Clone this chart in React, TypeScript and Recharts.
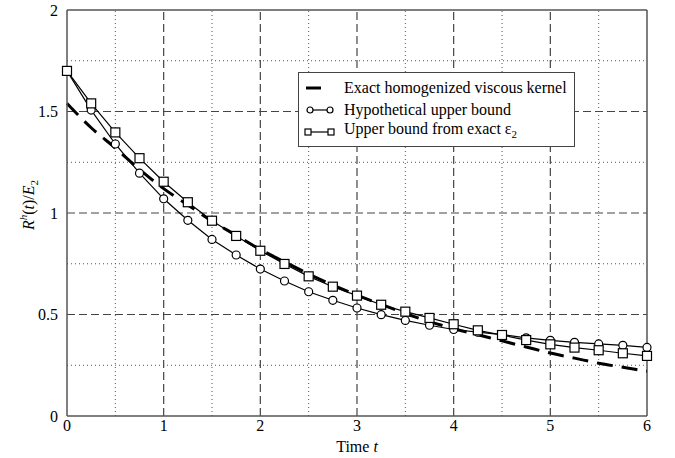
import React from 'react';
import { LineChart, Line, XAxis, YAxis, ReferenceLine, Legend, Label } from 'recharts';

const times = [0, 0.25, 0.5, 0.75, 1, 1.25, 1.5, 1.75, 2, 2.25, 2.5, 2.75, 3, 3.25, 3.5, 3.75, 4, 4.25, 4.5, 4.75, 5, 5.25, 5.5, 5.75, 6];
const exactKernel = [1.54, 1.42, 1.32, 1.215, 1.12, 1.04, 0.96, 0.89, 0.82, 0.76, 0.7, 0.645, 0.595, 0.55, 0.505, 0.465, 0.43, 0.4, 0.37, 0.34, 0.31, 0.285, 0.26, 0.24, 0.22];
const hypotheticalBound = [1.7, 1.507, 1.34, 1.196, 1.07, 0.964, 0.87, 0.793, 0.724, 0.665, 0.612, 0.57, 0.532, 0.499, 0.471, 0.447, 0.426, 0.413, 0.401, 0.385, 0.373, 0.363, 0.355, 0.348, 0.338];
const exactEps2Bound = [1.7, 1.54, 1.397, 1.27, 1.154, 1.053, 0.962, 0.887, 0.814, 0.749, 0.688, 0.637, 0.593, 0.548, 0.514, 0.483, 0.452, 0.422, 0.399, 0.374, 0.353, 0.337, 0.324, 0.309, 0.296];

const xTicks = [0, 1, 2, 3, 4, 5, 6];
const yTicks = [0, 0.5, 1, 1.5, 2];
const xMajorGrid = [1, 2, 3, 4, 5];
const xMinorGrid = [0.5, 1.5, 2.5, 3.5, 4.5, 5.5];
const yMajorGrid = [0.5, 1, 1.5];
const yMinorGrid = [0.25, 0.75, 1.25, 1.75];

const data = times.map((t, i) => ({
  t,
  exact: exactKernel[i],
  hyp: hypotheticalBound[i],
  upper: exactEps2Bound[i],
}));

const FONT = '"Liberation Serif", "DejaVu Serif", serif';

const CircleDot = (props: any) => {
  const { cx, cy, index } = props;
  return <circle key={`c${index}`} cx={cx} cy={cy} r={4} fill="#fff" stroke="#000" strokeWidth={1.2} />;
};

const SquareDot = (props: any) => {
  const { cx, cy, index } = props;
  return <rect key={`s${index}`} x={cx - 4.5} y={cy - 4.5} width={9} height={9} fill="#fff" stroke="#000" strokeWidth={1.2} />;
};

const LegendBox = () => {
  const row: React.CSSProperties = { display: 'flex', alignItems: 'center', height: 22 };
  const txt: React.CSSProperties = { marginLeft: 5, whiteSpace: 'nowrap' };
  return (
    <div style={{ border: '1px solid #444', background: '#fff', width: 277, height: 75, padding: '4px 0 0 0', boxSizing: 'border-box', fontFamily: FONT, fontSize: 16, color: '#000', lineHeight: '22px' }}>
      <div style={row}>
        <svg width={40} height={22}><line x1={7} y1={11} x2={22} y2={11} stroke="#000" strokeWidth={3} /></svg>
        <span style={txt}>Exact homogenized viscous kernel</span>
      </div>
      <div style={row}>
        <svg width={40} height={22}>
          <line x1={11} y1={11} x2={31} y2={11} stroke="#000" strokeWidth={1.2} />
          <circle cx={11} cy={11} r={3} fill="#fff" stroke="#000" strokeWidth={1.2} />
          <circle cx={31} cy={11} r={3} fill="#fff" stroke="#000" strokeWidth={1.2} />
        </svg>
        <span style={txt}>Hypothetical upper bound</span>
      </div>
      <div style={row}>
        <svg width={40} height={22}>
          <line x1={9} y1={11} x2={32} y2={11} stroke="#000" strokeWidth={1.2} />
          <rect x={6} y={8} width={6} height={6} fill="#fff" stroke="#000" strokeWidth={1.2} />
          <rect x={29} y={8} width={6} height={6} fill="#fff" stroke="#000" strokeWidth={1.2} />
        </svg>
        <span style={txt}>Upper bound from exact ε<sub style={{ fontSize: 11 }}>2</sub></span>
      </div>
    </div>
  );
};

const YLabel = () => (
  <text transform="translate(34,205) rotate(-90)" textAnchor="middle" fontFamily={FONT} fontSize={16} fill="#000">
    <tspan fontStyle="italic">R</tspan>
    <tspan fontStyle="italic" fontSize={11} dy={-7}>h</tspan>
    <tspan dy={7}>(</tspan>
    <tspan fontStyle="italic">t</tspan>
    <tspan>)/</tspan>
    <tspan fontStyle="italic">E</tspan>
    <tspan fontSize={11} dy={4}>2</tspan>
  </text>
);

const XLabel = () => (
  <text x={357} y={452} textAnchor="middle" fontFamily={FONT} fontSize={16} fill="#000">
    <tspan>Time </tspan>
    <tspan fontStyle="italic">t</tspan>
  </text>
);

export default function App() {
  const tick = { fontFamily: FONT, fontSize: 16, fill: '#000' };
  return (
    <div style={{ position: 'absolute', left: 0, top: 0, background: '#fff' }}>
      <LineChart width={675} height={458} data={data} margin={{ top: 10, right: 28, bottom: 0, left: 27 }}>
        <XAxis
          dataKey="t"
          type="number"
          domain={[0, 6]}
          ticks={xTicks}
          tickLine={false}
          tickSize={0}
          tickMargin={4}
          height={42}
          stroke="#555"
          strokeWidth={1.5}
          tick={tick}
        >
          <Label content={<XLabel />} />
        </XAxis>
        <YAxis
          type="number"
          domain={[0, 2]}
          ticks={yTicks}
          tickLine={false}
          tickSize={0}
          tickMargin={9}
          width={40}
          stroke="#555"
          strokeWidth={1.5}
          tick={tick}
        >
          <Label content={<YLabel />} />
        </YAxis>
        {xMinorGrid.map((v) => (
          <ReferenceLine key={`xm${v}`} x={v} stroke="#555" strokeDasharray="1 3" strokeWidth={1} />
        ))}
        {yMinorGrid.map((v) => (
          <ReferenceLine key={`ym${v}`} y={v} stroke="#555" strokeDasharray="1 3" strokeWidth={1} />
        ))}
        {xMajorGrid.map((v) => (
          <ReferenceLine key={`xM${v}`} x={v} stroke="#444" strokeDasharray="8 4" strokeWidth={1.2} />
        ))}
        {yMajorGrid.map((v) => (
          <ReferenceLine key={`yM${v}`} y={v} stroke="#444" strokeDasharray="8 4" strokeWidth={1.2} />
        ))}
        <ReferenceLine y={2} stroke="#555" strokeWidth={1.5} />
        <ReferenceLine x={6} stroke="#555" strokeWidth={1.5} />
        <Line dataKey="exact" type="monotone" stroke="#000" strokeWidth={3} strokeDasharray="16 9" dot={false} isAnimationActive={false} />
        <Line dataKey="hyp" type="linear" stroke="#000" strokeWidth={1.2} dot={CircleDot} isAnimationActive={false} />
        <Line dataKey="upper" type="linear" stroke="#000" strokeWidth={1.2} dot={SquareDot} isAnimationActive={false} />
        <Legend
          layout="vertical"
          align="center"
          verticalAlign="middle"
          content={() => <LegendBox />}
          wrapperStyle={{ position: 'absolute', left: 298, top: 72, width: 'auto', height: 'auto' }}
        />
      </LineChart>
    </div>
  );
}
